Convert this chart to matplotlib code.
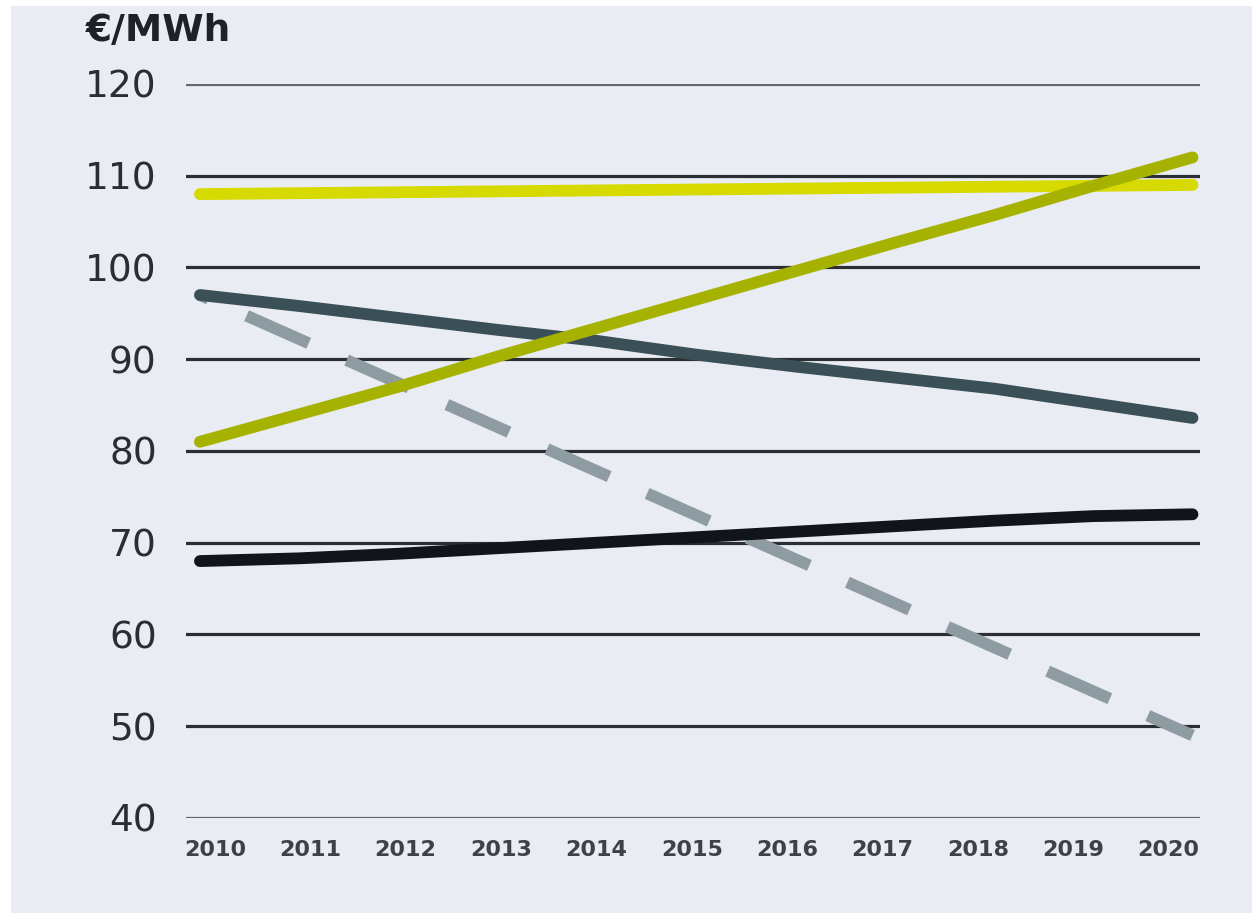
import numpy as np
import matplotlib.pyplot as plt
from matplotlib.patches import Rectangle

years = [2010, 2011, 2012, 2013, 2014, 2015, 2016, 2017, 2018, 2019, 2020]
yticks = [40, 50, 60, 70, 80, 90, 100, 110, 120]

# €/MWh per year
yellow_flat = [108.0, 108.1, 108.2, 108.3, 108.4, 108.5, 108.6, 108.7, 108.8, 108.9, 109.0]
olive_rising = [81.0, 84.0, 87.0, 90.3, 93.4, 96.5, 99.6, 102.7, 105.7, 108.9, 112.0]
slate_falling = [97.0, 95.8, 94.5, 93.2, 92.0, 90.5, 89.2, 88.0, 86.8, 85.2, 83.6]
black_rising = [68.0, 68.3, 68.8, 69.4, 70.0, 70.6, 71.2, 71.8, 72.4, 72.9, 73.1]
gray_dashed = [97.0, 92.2, 87.4, 82.6, 77.8, 73.0, 68.2, 63.4, 58.6, 53.8, 49.0]

bg = '#e9ecf2'

fig = plt.figure(figsize=(12.57, 9.17), dpi=100, facecolor='white')
# light panel behind the chart, thin white margin around it
fig.patches.append(Rectangle((0.009, 0.004), 0.987, 0.99, transform=fig.transFigure,
                             facecolor=bg, edgecolor='none', zorder=-10))
ax = fig.add_axes([0.148, 0.108, 0.807, 0.8004])
ax.set_facecolor(bg)

for v in yticks:
    col = '#62666e' if v in (40, 120) else '#2b2e33'
    ax.axhline(v, color=col, lw=2.3, zorder=1)

lw = 8.5
ax.plot(years, gray_dashed, color='#8e9ca1', lw=lw, linestyle=(4.96, (5.76, 3.52)),
        dash_capstyle='butt', zorder=2)
ax.plot(years, black_rising, color='#111418', lw=lw, solid_capstyle='round', zorder=3)
ax.plot(years, slate_falling, color='#3b4f57', lw=lw, solid_capstyle='round', zorder=3)
ax.plot(years, yellow_flat, color='#d6da00', lw=lw, solid_capstyle='round', zorder=3)
ax.plot(years, olive_rising, color='#a6b200', lw=lw, solid_capstyle='round', zorder=4)

ax.set_xlim(2009.86, 2020.08)
ax.set_ylim(40, 120)
ax.set_yticks(yticks)
# year labels sit slightly inside the ends of the lines
ax.set_xticks(np.linspace(2010.15, 2019.76, len(years)))
ax.set_xticklabels([str(y) for y in years])
ax.tick_params(axis='y', length=0, pad=21, labelsize=27, labelcolor='#2a2d33')
ax.tick_params(axis='x', length=0, pad=16, labelsize=16, labelcolor='#3e4148')
for lab in ax.get_xticklabels():
    lab.set_fontweight('bold')
for s in ax.spines.values():
    s.set_visible(False)

fig.text(0.068, 0.966, '€/MWh', fontsize=27, fontweight='bold', color='#1e2126',
         ha='left', va='center')

fig.savefig('out.png', dpi=100, facecolor='white')
